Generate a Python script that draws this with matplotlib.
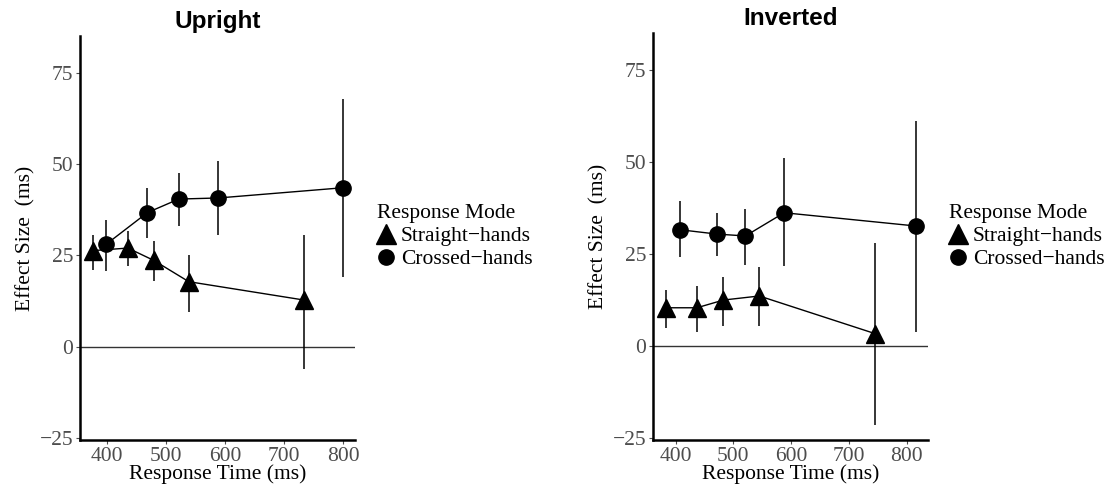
import numpy as np
import matplotlib
matplotlib.use("Agg")
import matplotlib.pyplot as plt
from matplotlib.lines import Line2D

# values
# Upright panel
up_tri_x = [377, 436, 480, 539, 733]
up_tri_y = [26.3, 27.0, 23.6, 17.8, 12.8]
up_tri_lo = [21.0, 22.0, 18.0, 9.5, -6.0]
up_tri_hi = [30.5, 31.8, 28.8, 25.0, 30.7]

up_cir_x = [399, 469, 522, 589, 800]
up_cir_y = [28.0, 36.7, 40.4, 40.7, 43.5]
up_cir_lo = [20.8, 29.8, 33.0, 30.5, 19.1]
up_cir_hi = [34.8, 43.5, 47.6, 50.8, 67.9]

# Inverted panel
inv_tri_x = [383, 437, 483, 545, 745]
inv_tri_y = [10.4, 10.4, 12.5, 13.6, 3.4]
inv_tri_lo = [5.0, 3.8, 5.5, 5.5, -21.4]
inv_tri_hi = [15.3, 16.4, 18.7, 21.6, 28.0]

inv_cir_x = [407, 472, 521, 588, 816]
inv_cir_y = [31.6, 30.4, 29.9, 36.2, 32.6]
inv_cir_lo = [24.1, 24.4, 22.1, 21.8, 3.8]
inv_cir_hi = [39.3, 36.2, 37.1, 51.0, 61.2]

panels = ["Upright", "Inverted"]
x_ticks = [400, 500, 600, 700, 800]
y_ticks = [-25, 0, 25, 50, 75]
legend_title = "Response Mode"
legend_labels = ["Straight\u2212hands", "Crossed\u2212hands"]

serif = "Liberation Serif"
fs = 15.5

fig = plt.figure(figsize=(11.14, 4.88), dpi=100)
ax1 = fig.add_axes([80 / 1114, 48 / 488, 275 / 1114, 404 / 488])
ax2 = fig.add_axes([653 / 1114, 48 / 488, 275 / 1114, 407 / 488])


def draw(ax, title, xlim, tx, ty, tlo, thi, cx, cy, clo, chi):
    ax.axhline(0, color="#333333", lw=1.0, zorder=1)
    for xs, ys, lo, hi, mk, ms in [(tx, ty, tlo, thi, "^", 13),
                                    (cx, cy, clo, chi, "o", 11)]:
        ys = np.array(ys)
        err = [ys - np.array(lo), np.array(hi) - ys]
        ax.errorbar(xs, ys, yerr=err, fmt="none", ecolor="black",
                    elinewidth=1.1, capsize=0, zorder=2)
        ax.plot(xs, ys, color="black", lw=1.0, zorder=3)
        ax.plot(xs, ys, linestyle="none", marker=mk, ms=ms,
                color="black", zorder=4)
    ax.set_xlim(*xlim)
    ax.set_ylim(-25.5, 85)
    ax.set_xticks(x_ticks)
    ax.set_yticks(y_ticks)
    ax.set_yticklabels(["\u221225", "0", "25", "50", "75"])
    for s in ["top", "right"]:
        ax.spines[s].set_visible(False)
    for s in ["left", "bottom"]:
        ax.spines[s].set_linewidth(1.8)
    ax.tick_params(length=3, width=0.8, color="#4d4d4d", labelcolor="#4d4d4d",
                   labelsize=fs, pad=2)
    for lab in ax.get_xticklabels() + ax.get_yticklabels():
        lab.set_family(serif)
    ax.set_xlabel("Response Time (ms)", family=serif, fontsize=fs, labelpad=-1)
    ax.set_ylabel("Effect Size  (ms)", family=serif, fontsize=fs, labelpad=3)
    ax.set_title(title, family="Liberation Sans", fontweight="bold",
                 fontsize=17.5, pad=6)


draw(ax1, panels[0], (355, 820), up_tri_x, up_tri_y, up_tri_lo, up_tri_hi,
     up_cir_x, up_cir_y, up_cir_lo, up_cir_hi)
draw(ax2, panels[1], (361, 837), inv_tri_x, inv_tri_y, inv_tri_lo, inv_tri_hi,
     inv_cir_x, inv_cir_y, inv_cir_lo, inv_cir_hi)

handles = [Line2D([], [], linestyle="none", marker="^", ms=14, color="black"),
           Line2D([], [], linestyle="none", marker="o", ms=11, color="black")]
for xpos in [377 / 1114, 949 / 1114]:
    leg = fig.legend(handles, legend_labels, title=legend_title,
                     loc="center left", bbox_to_anchor=(xpos, 0.515),
                     frameon=False, prop={"family": serif, "size": fs},
                     handlelength=0.85, handletextpad=0.25, labelspacing=0.15,
                     borderaxespad=0, borderpad=0)
    leg.get_title().set_family(serif)
    leg.get_title().set_fontsize(fs)
    leg._legend_box.align = "left"

fig.savefig("out.png", dpi=100)
